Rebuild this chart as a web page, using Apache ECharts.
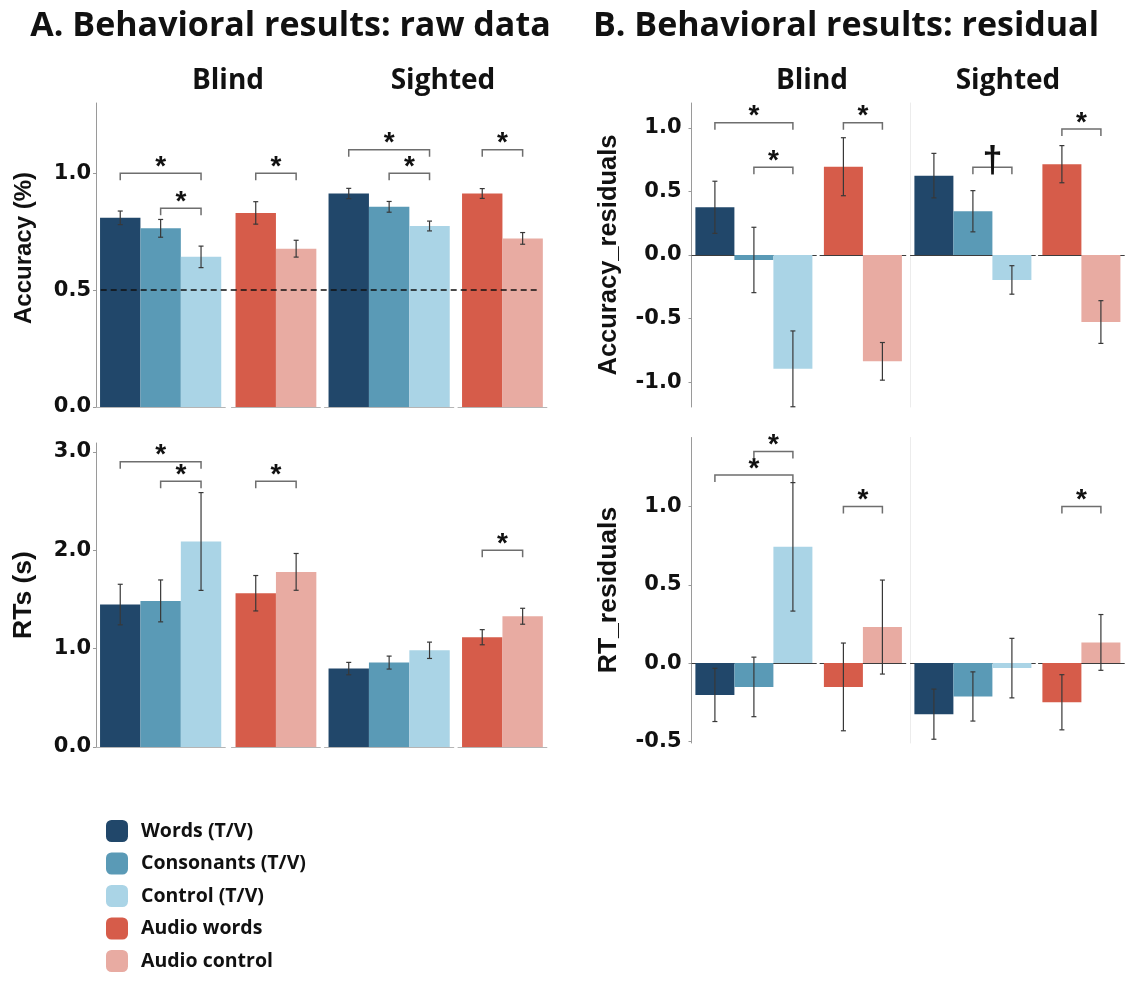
<!DOCTYPE html>
<html><head><meta charset="utf-8">
<script src="https://cdn.jsdelivr.net/npm/echarts@6/dist/echarts.min.js"></script>
<style>html,body{margin:0;padding:0;background:#fff}#c{width:1127px;height:982px}</style>
</head><body><div id="c"></div>
<script>
// ---------- DATA ----------
const groups = ['Blind', 'Sighted'];
const conditions = ['Words (T/V)', 'Consonants (T/V)', 'Control (T/V)', 'Audio words', 'Audio control'];
// facet order: Blind T/V, Blind Audio, Sighted T/V, Sighted Audio
const facetConditions = [[0, 1, 2], [3, 4], [0, 1, 2], [3, 4]];

const accRaw   = [0.809, 0.764, 0.642, 0.830, 0.677, 0.913, 0.856, 0.774, 0.913, 0.721];
const accRawSE = [0.029, 0.038, 0.046, 0.048, 0.036, 0.022, 0.023, 0.021, 0.021, 0.025];
const rtRaw    = [1.448, 1.485, 2.089, 1.563, 1.780, 0.797, 0.858, 0.983, 1.116, 1.329];
const rtRawSE  = [0.206, 0.213, 0.497, 0.180, 0.187, 0.063, 0.066, 0.083, 0.077, 0.081];
const accRes   = [0.375, -0.039, -0.895, 0.694, -0.836, 0.624, 0.344, -0.196, 0.714, -0.527];
const accResSE = [0.205, 0.257, 0.298, 0.228, 0.148, 0.175, 0.162, 0.112, 0.146, 0.168];
const rtRes    = [-0.203, -0.152, 0.742, -0.152, 0.230, -0.326, -0.213, -0.032, -0.250, 0.132];
const rtResSE  = [0.170, 0.190, 0.410, 0.280, 0.300, 0.160, 0.157, 0.190, 0.176, 0.178];

// significance brackets: [facet, from bar, to bar, y level, label]
const accRawSig = [[0, 0, 2, 1.00, '*'], [0, 1, 2, 0.85, '*'], [1, 0, 1, 1.00, '*'],
                   [2, 0, 2, 1.10, '*'], [2, 1, 2, 1.00, '*'], [3, 0, 1, 1.10, '*']];
const rtRawSig  = [[0, 0, 2, 2.90, '*'], [0, 1, 2, 2.70, '*'], [1, 0, 1, 2.70, '*'], [3, 0, 1, 2.00, '*']];
const accResSig = [[0, 0, 2, 1.04, '*'], [0, 1, 2, 0.69, '*'], [1, 0, 1, 1.04, '*'],
                   [2, 1, 2, 0.69, '\u2020'], [3, 0, 1, 0.99, '*']];
const rtResSig  = [[0, 0, 2, 1.20, '*'], [0, 1, 2, 1.35, '*'], [1, 0, 1, 1.00, '*'], [3, 0, 1, 1.00, '*']];

const chanceLevel = 0.5;
const accRawTicks = [0, 0.5, 1.0];
const rtRawTicks  = [0, 1, 2, 3];
const accResTicks = [-1, -0.5, 0, 0.5, 1];
const rtResTicks  = [-0.5, 0, 0.5, 1];

// ---------- STYLE / LAYOUT ----------
const colors = ['#21476A', '#5A9AB6', '#AAD4E6', '#D65C4A', '#E8ABA2'];
const leftA = [96, 231.5, 324.5, 458];
const leftB = [691.5, 820, 910.5, 1038.5];
const panels = [
  {means: accRaw, se: accRawSE, sig: accRawSig, ticks: accRawTicks, min: 0, max: 1.3, top: 103, height: 304,
   lefts: leftA, unit: 40.4, base: '#b5b5b5', margin: 5, chance: chanceLevel,
   name: 'Accuracy (%)', nameX: 24, nameY: 248, nameSize: 24},
  {means: rtRaw, se: rtRawSE, sig: rtRawSig, ticks: rtRawTicks, min: 0, max: 3.09, top: 443, height: 304,
   lefts: leftA, unit: 40.4, base: '#b5b5b5', margin: 5,
   name: 'RTs (s)', nameX: 24, nameY: 595, nameSize: 26.5},
  {means: accRes, se: accResSE, sig: accResSig, ticks: accResTicks, min: -1.195, max: 1.195, top: 103, height: 304,
   lefts: leftB, unit: 39, base: '#3c3c3c', margin: 10, divider: true,
   name: 'Accuracy_residuals', nameX: 609, nameY: 255, nameSize: 25.5},
  {means: rtRes, se: rtResSE, sig: rtResSig, ticks: rtResTicks, min: -0.51, max: 1.44, top: 437.5, height: 305.5,
   lefts: leftB, unit: 39, base: '#3c3c3c', margin: 10, divider: true,
   name: 'RT_residuals', nameX: 609, nameY: 590, nameSize: 26.5}
];

function errorBar(params, api) {
  const x = api.value(0), m = api.value(1), s = api.value(2);
  const hi = api.coord([x, m + s]), lo = api.coord([x, m - s]);
  const w = 2.5;
  const style = {stroke: '#383838', lineWidth: 1.2};
  return {type: 'group', children: [
    {type: 'line', shape: {x1: hi[0], y1: hi[1], x2: lo[0], y2: lo[1]}, style: style},
    {type: 'line', shape: {x1: hi[0] - w, y1: hi[1], x2: hi[0] + w, y2: hi[1]}, style: style},
    {type: 'line', shape: {x1: lo[0] - w, y1: lo[1], x2: lo[0] + w, y2: lo[1]}, style: style}
  ]};
}
function makeBracket(labels) {
  return function (params, api) {
    const a = api.coord([api.value(0), api.value(2)]);
    const b = api.coord([api.value(1), api.value(2)]);
    const tip = 7;
    const lab = labels[params.dataIndex];
    const star = lab === '*';
    const font = star ? 'bold 28px "Liberation Sans"' : 'bold 36px "Liberation Sans"';
    return {type: 'group', children: [
      {type: 'polyline', shape: {points: [[a[0], a[1] + tip], [a[0], a[1]], [b[0], b[1]], [b[0], b[1] + tip]]},
       style: {stroke: '#6e6e6e', lineWidth: 1.5, fill: null}},
      {type: 'text', x: (a[0] + b[0]) / 2, y: a[1] - (star ? 6 : 5),
       style: {text: lab, font: font, fill: '#111', align: 'center', verticalAlign: 'middle'}}
    ]};
  };
}

const grid = [], xAxis = [], yAxis = [], series = [], graphic = [];
panels.forEach(function (p) {
  let offset = 0;
  facetConditions.forEach(function (conds, f) {
    const n = conds.length;
    const gi = grid.length;
    grid.push({left: p.lefts[f], top: p.top, width: p.unit * (n + 0.2), height: p.height, containLabel: false, outerBoundsMode: 'none'});
    xAxis.push({type: 'value', gridIndex: gi, min: -0.6, max: n - 0.4,
      axisLine: {show: true, onZero: true, lineStyle: {color: p.base, width: 1}},
      axisTick: {show: false}, axisLabel: {show: false}, splitLine: {show: false}});
    const ya = {type: 'value', gridIndex: gi, min: p.min, max: p.max, splitLine: {show: false}};
    if (f === 0) {
      Object.assign(ya, {
        axisLine: {show: true, onZero: false, lineStyle: {color: '#9a9a9a', width: 1}},
        axisTick: {show: true, length: 3, customValues: p.ticks, lineStyle: {color: '#9a9a9a'}},
        axisLabel: {show: true, customValues: p.ticks, margin: p.margin, formatter: function (v) { return v.toFixed(1); },
          fontFamily: 'DejaVu Sans', fontWeight: 'bold', fontSize: 21, color: '#111'}
      });
    } else if (f === 2 && p.divider) {
      Object.assign(ya, {axisLine: {show: true, onZero: false, lineStyle: {color: '#ececec', width: 1}},
        axisTick: {show: false}, axisLabel: {show: false}});
    } else {
      ya.show = false;
    }
    yAxis.push(ya);
    conds.forEach(function (c, k) {
      series.push({name: conditions[c], type: 'bar', xAxisIndex: gi, yAxisIndex: gi,
        data: [[k, p.means[offset + k]]], barWidth: '100%', barGap: '-100%',
        itemStyle: {color: colors[c]}, silent: true, z: 2});
    });
    series.push({type: 'custom', xAxisIndex: gi, yAxisIndex: gi, silent: true, z: 4, clip: false,
      encode: {x: 0, y: 1},
      data: conds.map(function (c, k) { return [k, p.means[offset + k], p.se[offset + k]]; }),
      renderItem: errorBar});
    const sig = p.sig.filter(function (s) { return s[0] === f; });
    if (sig.length) {
      series.push({type: 'custom', xAxisIndex: gi, yAxisIndex: gi, silent: true, z: 5, clip: false,
        encode: {x: [0, 1], y: 2},
        data: sig.map(function (s) { return [s[1], s[2], s[3]]; }),
        renderItem: makeBracket(sig.map(function (s) { return s[4]; }))});
    }
    offset += n;
  });
  if (p.chance !== undefined) {
    const gi = grid.length;
    grid.push({left: 100.7, top: p.top, width: 437, height: p.height, containLabel: false, outerBoundsMode: 'none'});
    xAxis.push({type: 'value', gridIndex: gi, min: 0, max: 1, show: false});
    yAxis.push({type: 'value', gridIndex: gi, min: p.min, max: p.max, show: false});
    series.push({type: 'line', xAxisIndex: gi, yAxisIndex: gi, data: [], z: 10, silent: true,
      markLine: {symbol: 'none', silent: true, label: {show: false}, animation: false,
        lineStyle: {type: [6, 4], color: '#111', width: 1.5}, data: [{yAxis: p.chance}]}});
  }
  graphic.push({type: 'text', x: p.nameX, y: p.nameY, rotation: Math.PI / 2,
    style: {text: p.name, font: 'bold ' + p.nameSize + 'px "Liberation Sans"', fill: '#111', align: 'center', verticalAlign: 'middle'}});
});

const titleFont = 'bold 34px "Open Sans"';
const stripFont = 'bold 28px "Open Sans"';
graphic.push(
  {type: 'text', x: 290.5, y: 26, style: {text: 'A. Behavioral results: raw data', font: titleFont, fill: '#111', align: 'center', verticalAlign: 'middle'}},
  {type: 'text', x: 846, y: 26, style: {text: 'B. Behavioral results: residual', font: titleFont, fill: '#111', align: 'center', verticalAlign: 'middle'}},
  {type: 'text', x: 228, y: 81, style: {text: groups[0], font: stripFont, fill: '#111', align: 'center', verticalAlign: 'middle'}},
  {type: 'text', x: 443, y: 81, style: {text: groups[1], font: stripFont, fill: '#111', align: 'center', verticalAlign: 'middle'}},
  {type: 'text', x: 812, y: 81, style: {text: groups[0], font: stripFont, fill: '#111', align: 'center', verticalAlign: 'middle'}},
  {type: 'text', x: 1008, y: 81, style: {text: groups[1], font: stripFont, fill: '#111', align: 'center', verticalAlign: 'middle'}}
);

const chart = echarts.init(document.getElementById('c'));
chart.setOption({
  animation: false,
  backgroundColor: '#fff',
  textStyle: {fontFamily: 'Liberation Sans'},
  grid: grid, xAxis: xAxis, yAxis: yAxis, series: series, graphic: graphic,
  legend: {orient: 'vertical', left: 106, top: 820, padding: 0, itemWidth: 22, itemHeight: 22, itemGap: 10.5,
    icon: 'roundRect', selectedMode: false, data: conditions,
    textStyle: {fontFamily: 'Open Sans', fontWeight: 'bold', fontSize: 19.5, color: '#111', padding: [0, 0, 0, 8]}}
});
</script></body></html>
